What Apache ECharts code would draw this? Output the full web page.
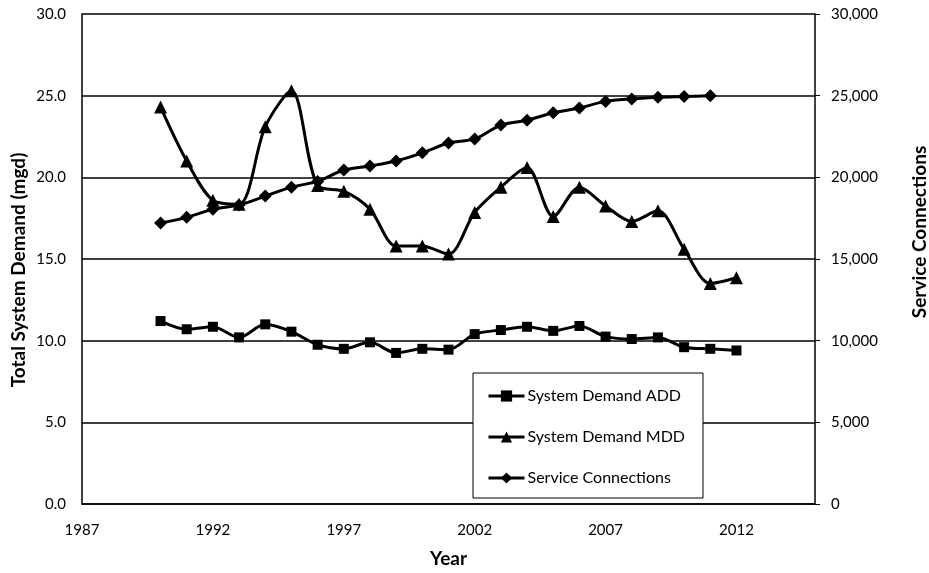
<!DOCTYPE html>
<html>
<head>
<meta charset="utf-8">
<script src="https://cdn.jsdelivr.net/npm/echarts@6/dist/echarts.min.js"></script>
<style>
  html, body { margin: 0; padding: 0; background: #fff; }
  #chart { width: 929px; height: 573px; }
</style>
</head>
<body>
<div id="chart"></div>
<script>
// years on the x axis
const years = [1990, 1991, 1992, 1993, 1994, 1995, 1996, 1997, 1998, 1999, 2000, 2001,
  2002, 2003, 2004, 2005, 2006, 2007, 2008, 2009, 2010, 2011, 2012];
// system demand ADD (mgd)
const addValues = [11.2, 10.7, 10.85, 10.2, 11.0, 10.55, 9.75, 9.5, 9.9, 9.25, 9.5, 9.45,
  10.4, 10.65, 10.85, 10.6, 10.9, 10.25, 10.1, 10.2, 9.6, 9.5, 9.4];
// system demand MDD (mgd)
const mddValues = [24.3, 21.0, 18.6, 18.35, 23.1, 25.3, 19.5, 19.15, 18.05, 15.8, 15.8, 15.3,
  17.85, 19.4, 20.6, 17.6, 19.4, 18.25, 17.3, 17.95, 15.6, 13.5, 13.85];
// service connections (1990 - 2011)
const connValues = [17200, 17550, 18050, 18300, 18850, 19400, 19750, 20450, 20700, 21000,
  21500, 22100, 22350, 23200, 23500, 23950, 24250, 24650, 24800, 24900, 24950, 25000];

const pairs = (vals) => vals.map((v, i) => [years[i], v]);

const font = "Lato, 'Liberation Sans', sans-serif";

const option = {
  animation: false,
  backgroundColor: "#fff",
  textStyle: { fontFamily: font, color: "#000" },
  grid: { left: 82, right: 114, top: 14, bottom: 67 },
  legend: {
    left: 473,
    top: 373,
    orient: "vertical",
    backgroundColor: "#fff",
    borderColor: "#000",
    borderWidth: 1,
    padding: [15, 18, 12, 14],
    itemGap: 25,
    itemWidth: 36,
    itemHeight: 14,
    lineStyle: { width: 3 },
    textStyle: { fontSize: 16, color: "#000", fontFamily: font, padding: [0, 0, 0, -2] },
    data: ["System Demand ADD", "System Demand MDD", "Service Connections"],
  },
  xAxis: {
    type: "value",
    min: 1987,
    max: 2015,
    interval: 5,
    name: "Year",
    nameLocation: "middle",
    nameGap: 45,
    nameTextStyle: { fontSize: 19, fontWeight: "bold", color: "#000" },
    axisLine: { show: true, lineStyle: { color: "#000", width: 1.5 } },
    axisTick: { show: false },
    splitLine: { show: false },
    axisLabel: {
      fontSize: 15,
      color: "#000",
      margin: 19,
      formatter: (v) => (v === 2015 ? "" : String(v)),
    },
  },
  yAxis: [
    {
      type: "value",
      min: 0,
      max: 30,
      interval: 5,
      axisLine: { show: true, lineStyle: { color: "#000", width: 1.5 } },
      axisTick: { show: false },
      axisLabel: { fontSize: 15, color: "#000", margin: 16, formatter: (v) => v.toFixed(1) },
      splitLine: { lineStyle: { color: "#000", width: 1.5 } },
    },
    {
      type: "value",
      min: 0,
      max: 30000,
      interval: 5000,
      position: "right",
      axisLine: { show: true, lineStyle: { color: "#000", width: 1.5 } },
      axisTick: { show: true, inside: false, length: 5, lineStyle: { color: "#000" } },
      axisLabel: { fontSize: 15, color: "#000", margin: 16 },
      splitLine: { show: false },
    },
  ],
  graphic: [
    {
      type: "text",
      x: 19,
      y: 270,
      rotation: Math.PI / 2,
      style: {
        text: "Total System Demand (mgd)",
        fontFamily: font,
        fontSize: 19,
        fontWeight: "bold",
        fill: "#000",
        align: "center",
        verticalAlign: "middle",
      },
    },
    {
      type: "text",
      x: 920,
      y: 232,
      rotation: Math.PI / 2,
      style: {
        text: "Service Connections",
        fontFamily: font,
        fontSize: 19,
        fontWeight: "bold",
        fill: "#000",
        align: "center",
        verticalAlign: "middle",
      },
    },
  ],
  series: [
    {
      name: "System Demand ADD",
      type: "line",
      yAxisIndex: 0,
      data: pairs(addValues),
      smooth: 0.3,
      symbol: "rect",
      symbolSize: 10,
      lineStyle: { color: "#000", width: 3 },
      itemStyle: { color: "#000" },
    },
    {
      name: "System Demand MDD",
      type: "line",
      yAxisIndex: 0,
      data: pairs(mddValues),
      smooth: 0.3,
      symbol: "triangle",
      symbolSize: 13,
      lineStyle: { color: "#000", width: 3 },
      itemStyle: { color: "#000" },
    },
    {
      name: "Service Connections",
      type: "line",
      yAxisIndex: 1,
      data: pairs(connValues),
      smooth: 0.3,
      symbol: "diamond",
      symbolSize: 13,
      lineStyle: { color: "#000", width: 3 },
      itemStyle: { color: "#000" },
    },
  ],
};

const chart = echarts.init(document.getElementById("chart"));
chart.setOption(option);
</script>
</body>
</html>
